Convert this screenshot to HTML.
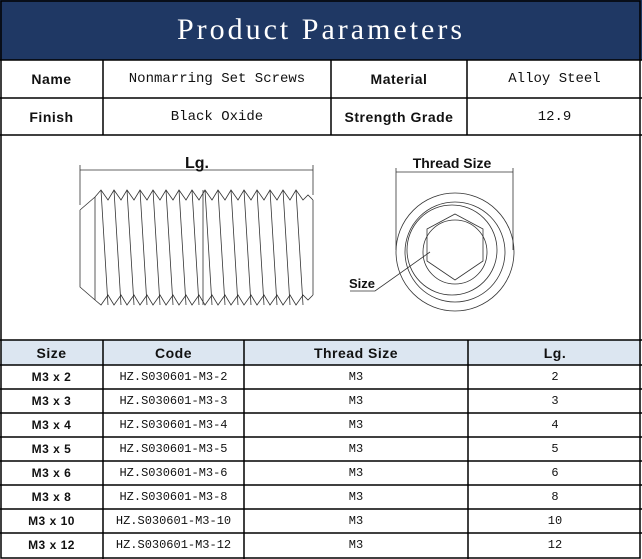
<!DOCTYPE html>
<html><head><style>
body{margin:0;background:#fff;}
#w{position:relative;width:642px;height:559px;overflow:hidden;font-family:"Liberation Mono","Noto Sans CJK SC",monospace;}
.c{position:absolute;display:flex;align-items:center;justify-content:center;box-sizing:border-box;font-size:14px;color:#111;}
.b{font-weight:bold;font-family:"Liberation Sans","Noto Sans CJK SC",sans-serif;letter-spacing:0.5px;}
</style></head><body><div id="w">
<svg width="642" height="559" style="position:absolute;left:0;top:0">
<rect x="0" y="0" width="642" height="60" fill="#1f3864"/>
<rect x="1" y="340" width="640" height="25" fill="#dce6f1"/>
<g stroke="#000" stroke-width="1.5" fill="none">
<rect x="1" y="1" width="639" height="557"/>
<line x1="0" y1="60" x2="642" y2="60"/>
<line x1="0" y1="98" x2="642" y2="98"/>
<line x1="0" y1="135" x2="642" y2="135"/>
<line x1="103" y1="60" x2="103" y2="135"/>
<line x1="331" y1="60" x2="331" y2="135"/>
<line x1="467" y1="60" x2="467" y2="135"/>
<line x1="0" y1="340" x2="642" y2="340"/>
<line x1="0" y1="365" x2="642" y2="365"/>
<line x1="0" y1="389" x2="642" y2="389"/>
<line x1="0" y1="413" x2="642" y2="413"/>
<line x1="0" y1="437" x2="642" y2="437"/>
<line x1="0" y1="461" x2="642" y2="461"/>
<line x1="0" y1="485" x2="642" y2="485"/>
<line x1="0" y1="509" x2="642" y2="509"/>
<line x1="0" y1="533" x2="642" y2="533"/>
<line x1="103" y1="340" x2="103" y2="559"/>
<line x1="244" y1="340" x2="244" y2="559"/>
<line x1="468" y1="340" x2="468" y2="559"/>
</g>
<g stroke="#333" stroke-width="0.8" fill="none">
<line x1="80" y1="170" x2="313" y2="170"/><line x1="80" y1="165" x2="80" y2="205"/><line x1="313" y1="165" x2="313" y2="195"/>
<path d="M80 210 L80 287 L95 300 M80 210 L95 197"/>
<path d="M95 197 L101 190 L108 200 L114 190 L121 200 L127 190 L134 200 L140 190 L147 200 L153 190 L160 200 L166 190 L173 200 L179 190 L186 200 L192 190 L199 200 L205 190 L212 200 L218 190 L225 200 L231 190 L238 200 L244 190 L251 200 L257 190 L264 200 L270 190 L277 200 L283 190 L290 200 L296 190 L303 200 L308 195 L313 200"/>
<path d="M95 300 L101 305 L108 295 L114 305 L121 295 L127 305 L134 295 L140 305 L147 295 L153 305 L160 295 L166 305 L173 295 L179 305 L186 295 L192 305 L199 295 L205 305 L212 295 L218 305 L225 295 L231 305 L238 295 L244 305 L251 295 L257 305 L264 295 L270 305 L277 295 L283 305 L290 295 L296 305 L303 295 L308 300 L313 295"/>
<path d="M95 197 L95 300 M101 190 L108 305 M114 190 L121 305 M127 190 L134 305 M140 190 L147 305 M153 190 L160 305 M166 190 L173 305 M179 190 L186 305 M192 190 L199 305 M205 190 L212 305 M218 190 L225 305 M231 190 L238 305 M244 190 L251 305 M257 190 L264 305 M270 190 L277 305 M283 190 L290 305 M296 190 L303 305 M313 200 L313 295 M203 190 L203 305"/>
<line x1="396" y1="172" x2="513" y2="172"/><line x1="396" y1="168" x2="396" y2="250"/><line x1="513" y1="168" x2="513" y2="250"/>
<circle cx="455" cy="252" r="59"/><circle cx="455" cy="252" r="50"/><circle cx="452" cy="250" r="45"/><circle cx="455" cy="252" r="32"/>
<polygon points="455,214 483,229 483,261 455,280 427,261 427,229"/>
<path d="M350 291 L375 291 L430 252"/>
</g>
<text x="197" y="168" font-family="Liberation Sans,sans-serif" font-weight="bold" font-size="16" text-anchor="middle" fill="#111">Lg.</text>
<text x="452" y="168" font-family="Liberation Sans,sans-serif" font-weight="bold" font-size="14" text-anchor="middle" fill="#111">Thread Size</text>
<text x="349" y="288" font-family="Liberation Sans,sans-serif" font-weight="bold" font-size="13" fill="#111">Size</text>
</svg>
<div class="c" style="left:0;top:0;width:642px;height:60px;color:#fff;font-family:'Liberation Serif',serif;font-size:30px;letter-spacing:3px">Product Parameters</div>
<div class="c b" style="left:0;top:60px;width:103px;height:38px">Name</div>
<div class="c" style="left:103px;top:60px;width:228px;height:38px">Nonmarring Set Screws</div>
<div class="c b" style="left:331px;top:60px;width:136px;height:38px">Material</div>
<div class="c" style="left:467px;top:60px;width:175px;height:38px">Alloy Steel</div>
<div class="c b" style="left:0;top:98px;width:103px;height:37px">Finish</div>
<div class="c" style="left:103px;top:98px;width:228px;height:37px">Black Oxide</div>
<div class="c b" style="left:331px;top:98px;width:136px;height:37px">Strength Grade</div>
<div class="c" style="left:467px;top:98px;width:175px;height:37px">12.9</div>
<div class="c b" style="left:0;top:340px;width:103px;height:25px;font-size:14px">Size</div>
<div class="c b" style="left:103px;top:340px;width:141px;height:25px;font-size:14px">Code</div>
<div class="c b" style="left:244px;top:340px;width:224px;height:25px;font-size:14px">Thread Size</div>
<div class="c b" style="left:468px;top:340px;width:174px;height:25px;font-size:14px">Lg.</div>
<div style="position:absolute;left:0;top:365px;">
<div style="position:relative;height:24px"><div class="c b" style="left:0;width:103px;height:24px;font-size:12px">M3 x 2</div><div class="c" style="left:103px;width:141px;height:24px;font-size:12px">HZ.S030601-M3-2</div><div class="c" style="left:244px;width:224px;height:24px;font-size:12px">M3</div><div class="c" style="left:468px;width:174px;height:24px;font-size:12px">2</div></div>
<div style="position:relative;height:24px"><div class="c b" style="left:0;width:103px;height:24px;font-size:12px">M3 x 3</div><div class="c" style="left:103px;width:141px;height:24px;font-size:12px">HZ.S030601-M3-3</div><div class="c" style="left:244px;width:224px;height:24px;font-size:12px">M3</div><div class="c" style="left:468px;width:174px;height:24px;font-size:12px">3</div></div>
<div style="position:relative;height:24px"><div class="c b" style="left:0;width:103px;height:24px;font-size:12px">M3 x 4</div><div class="c" style="left:103px;width:141px;height:24px;font-size:12px">HZ.S030601-M3-4</div><div class="c" style="left:244px;width:224px;height:24px;font-size:12px">M3</div><div class="c" style="left:468px;width:174px;height:24px;font-size:12px">4</div></div>
<div style="position:relative;height:24px"><div class="c b" style="left:0;width:103px;height:24px;font-size:12px">M3 x 5</div><div class="c" style="left:103px;width:141px;height:24px;font-size:12px">HZ.S030601-M3-5</div><div class="c" style="left:244px;width:224px;height:24px;font-size:12px">M3</div><div class="c" style="left:468px;width:174px;height:24px;font-size:12px">5</div></div>
<div style="position:relative;height:24px"><div class="c b" style="left:0;width:103px;height:24px;font-size:12px">M3 x 6</div><div class="c" style="left:103px;width:141px;height:24px;font-size:12px">HZ.S030601-M3-6</div><div class="c" style="left:244px;width:224px;height:24px;font-size:12px">M3</div><div class="c" style="left:468px;width:174px;height:24px;font-size:12px">6</div></div>
<div style="position:relative;height:24px"><div class="c b" style="left:0;width:103px;height:24px;font-size:12px">M3 x 8</div><div class="c" style="left:103px;width:141px;height:24px;font-size:12px">HZ.S030601-M3-8</div><div class="c" style="left:244px;width:224px;height:24px;font-size:12px">M3</div><div class="c" style="left:468px;width:174px;height:24px;font-size:12px">8</div></div>
<div style="position:relative;height:24px"><div class="c b" style="left:0;width:103px;height:24px;font-size:12px">M3 x 10</div><div class="c" style="left:103px;width:141px;height:24px;font-size:12px">HZ.S030601-M3-10</div><div class="c" style="left:244px;width:224px;height:24px;font-size:12px">M3</div><div class="c" style="left:468px;width:174px;height:24px;font-size:12px">10</div></div>
<div style="position:relative;height:24px"><div class="c b" style="left:0;width:103px;height:24px;font-size:12px">M3 x 12</div><div class="c" style="left:103px;width:141px;height:24px;font-size:12px">HZ.S030601-M3-12</div><div class="c" style="left:244px;width:224px;height:24px;font-size:12px">M3</div><div class="c" style="left:468px;width:174px;height:24px;font-size:12px">12</div></div>
</div>
</div></body></html>
